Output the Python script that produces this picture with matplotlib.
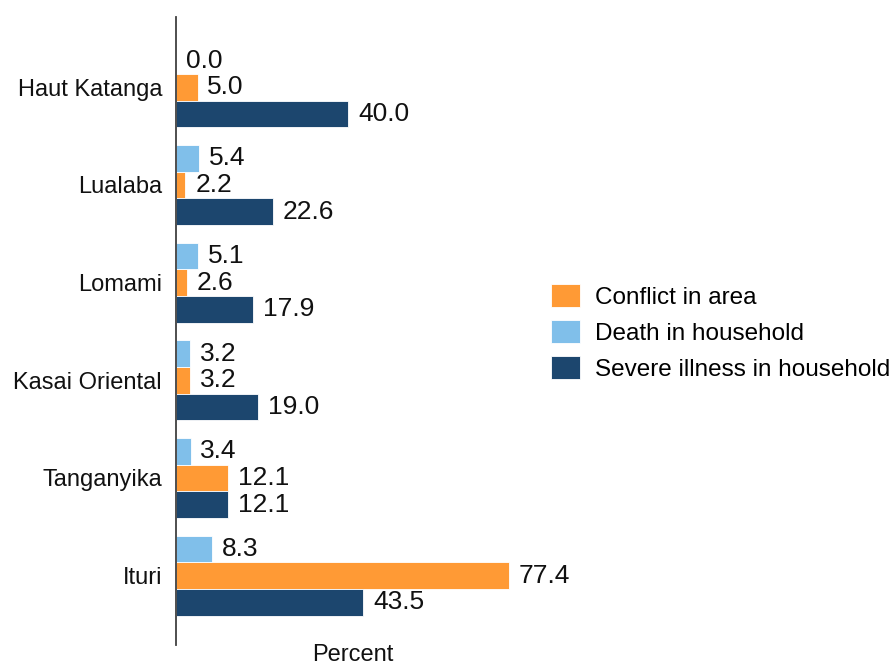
import numpy as np
import matplotlib.pyplot as plt

plt.rcParams['font.family'] = ['Liberation Sans', 'DejaVu Sans']

provinces = ['Haut Katanga', 'Lualaba', 'Lomami', 'Kasai Oriental', 'Tanganyika', 'Ituri']
death = [0.0, 5.4, 5.1, 3.2, 3.4, 8.3]
conflict = [5.0, 2.2, 2.6, 3.2, 12.1, 77.4]
illness = [40.0, 22.6, 17.9, 19.0, 12.1, 43.5]

c_conflict = '#FF9A35'
c_death = '#80BFEA'
c_illness = '#1C466E'

fig = plt.figure(figsize=(8.93, 6.68), dpi=100)
ax = fig.add_axes([176 / 893, 23 / 668, 353 / 893, 628 / 668])

y = np.arange(len(provinces))
h = 0.274

b_conf = ax.barh(y, conflict, height=h, color=c_conflict, edgecolor='white', linewidth=0.6,
                 label='Conflict in area')
b_death = ax.barh(y - h, death, height=h, color=c_death, edgecolor='white', linewidth=0.6,
                  label='Death in household')
b_ill = ax.barh(y + h, illness, height=h, color=c_illness, edgecolor='white', linewidth=0.6,
                label='Severe illness in household')

for bars in (b_death, b_conf, b_ill):
    ax.bar_label(bars, fmt='%.1f', padding=7, fontsize=19, color='#111111')

ax.set_yticks(y)
ax.set_yticklabels(provinces, fontsize=17, color='#111111')
ax.set_ylim(5.71, -0.72)
ax.set_xlim(0, 82)
ax.set_xticks([])
ax.tick_params(axis='y', length=0, pad=10)
for s in ('top', 'right', 'bottom'):
    ax.spines[s].set_visible(False)
ax.spines['left'].set_color('#404040')
ax.spines['left'].set_linewidth(1.3)
ax.set_xlabel('Percent', fontsize=17, color='#111111', labelpad=-1)

fig.legend(handles=[b_conf, b_death, b_ill], loc='upper left', bbox_to_anchor=(551 / 893, 1 - 284 / 668),
           frameon=False, fontsize=17.5, handlelength=1.2, handleheight=1.1,
           handletextpad=0.6, labelspacing=0.45, borderaxespad=0, borderpad=0)

fig.savefig('out.png', dpi=100)
